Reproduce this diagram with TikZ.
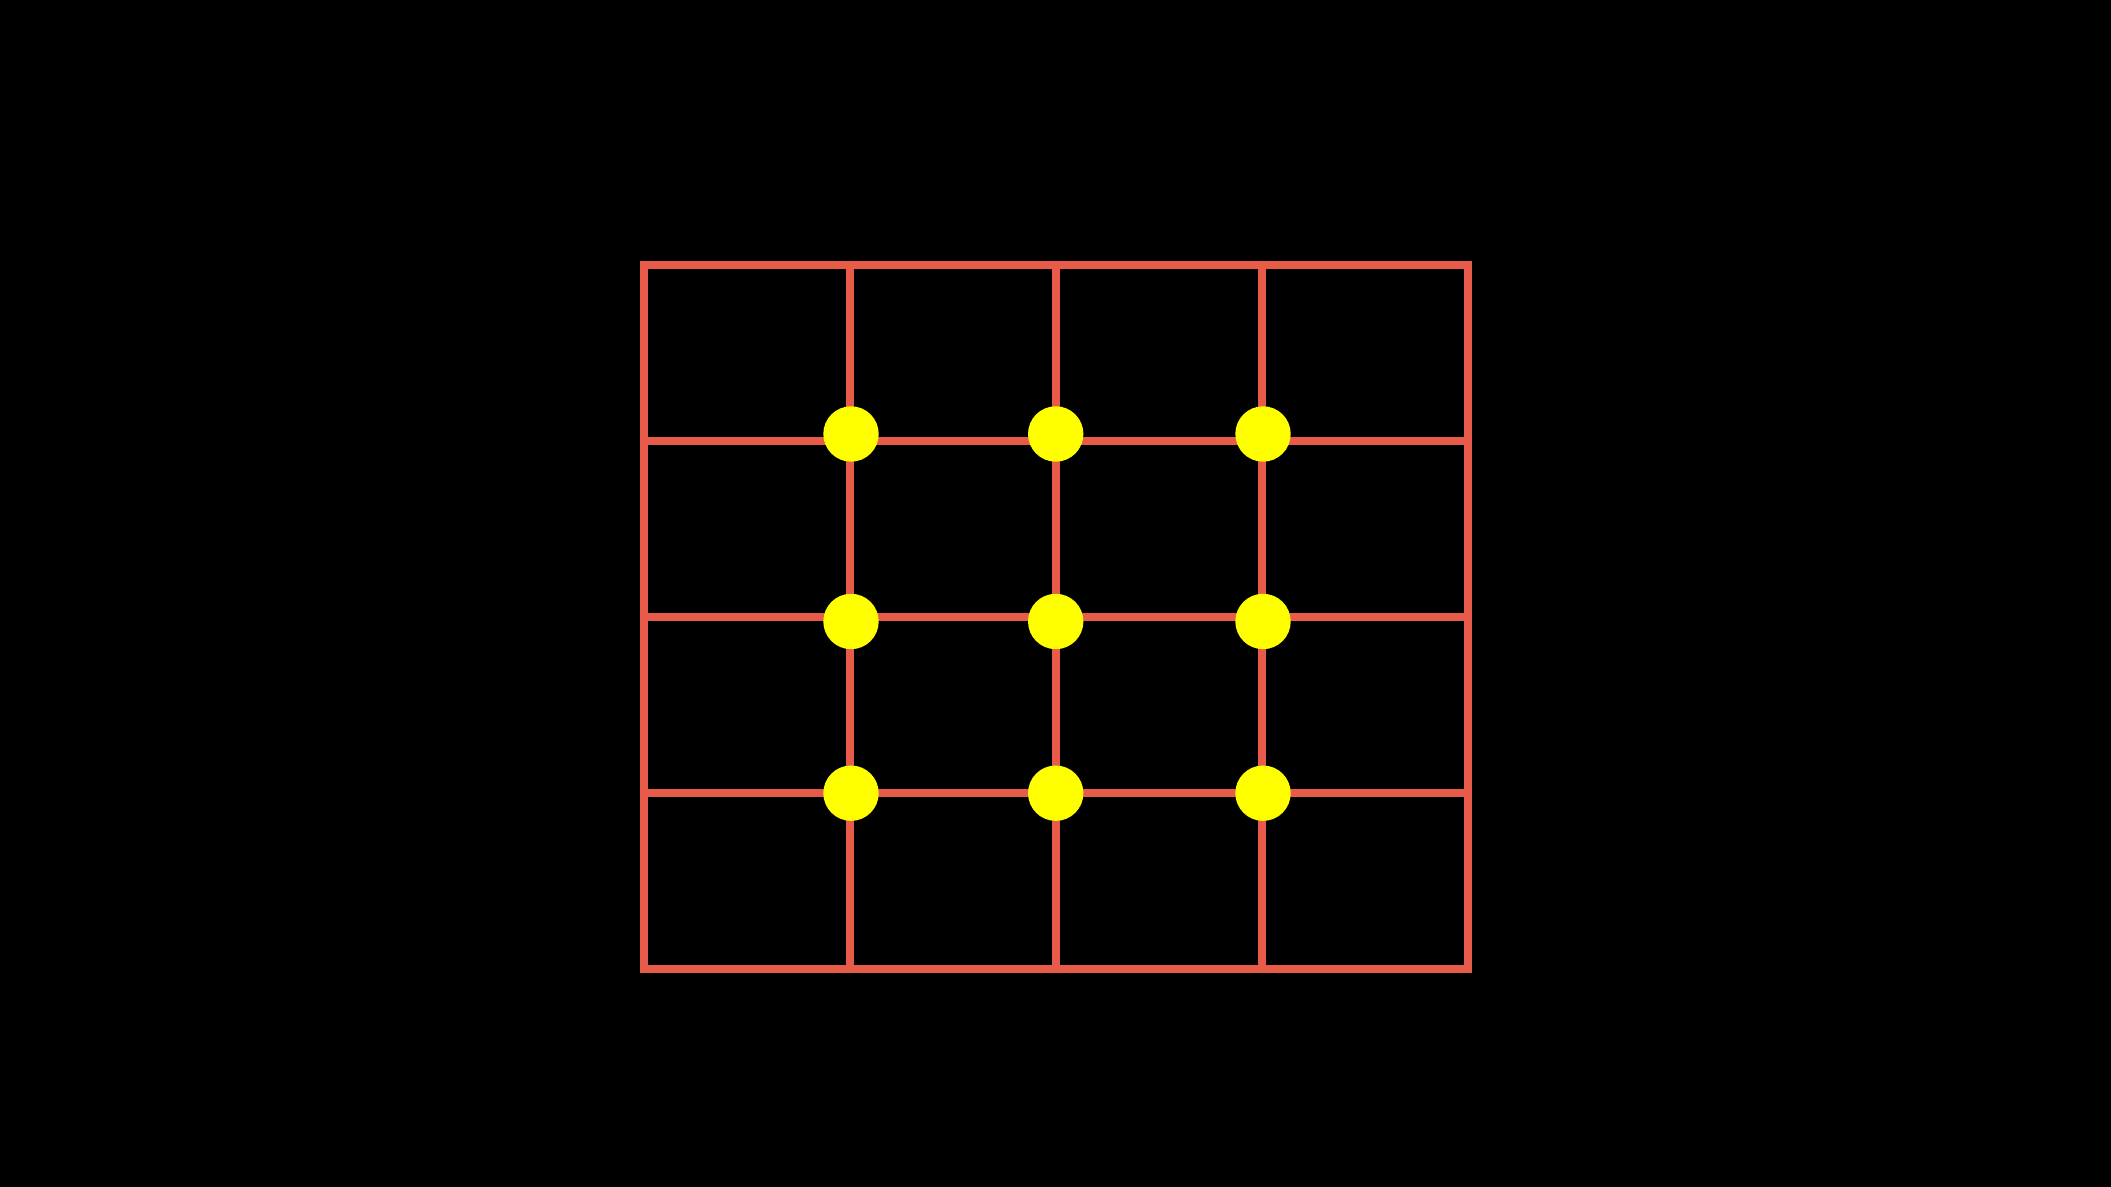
\documentclass[tikz,border=0pt]{standalone}
\usepackage{xcolor}
\usepackage{tikz}
\definecolor{gridred}{RGB}{231,91,72}
\definecolor{dotyellow}{RGB}{255,255,0}

\begin{document}
\begin{tikzpicture}[gridline/.style={gridred, line width=0.08cm, line cap=rect},
  dot/.style={circle, fill=dotyellow, inner sep=0pt, minimum size=0.554cm}]
\useasboundingbox (0,0) rectangle (21.11,11.87);
\fill[black] (0,0) rectangle (21.11,11.87);
% horizontal lines
\draw[gridline] (6.435,2.175) -- (14.675,2.175);
\draw[gridline] (6.435,3.935) -- (14.675,3.935);
\draw[gridline] (6.435,5.695) -- (14.675,5.695);
\draw[gridline] (6.435,7.455) -- (14.675,7.455);
\draw[gridline] (6.435,9.215) -- (14.675,9.215);
% vertical lines
\draw[gridline] (6.435,2.175) -- (6.435,9.215);
\draw[gridline] (8.495,2.175) -- (8.495,9.215);
\draw[gridline] (10.555,2.175) -- (10.555,9.215);
\draw[gridline] (12.615,2.175) -- (12.615,9.215);
\draw[gridline] (14.675,2.175) -- (14.675,9.215);
% dots
\node[dot] (p11) at (8.510,7.530) {};
\node[dot] (p12) at (10.557,7.530) {};
\node[dot] (p13) at (12.630,7.530) {};
\node[dot] (p21) at (8.510,5.655) {};
\node[dot] (p22) at (10.557,5.655) {};
\node[dot] (p23) at (12.630,5.655) {};
\node[dot] (p31) at (8.510,3.938) {};
\node[dot] (p32) at (10.557,3.938) {};
\node[dot] (p33) at (12.630,3.938) {};
\end{tikzpicture}
\end{document}
